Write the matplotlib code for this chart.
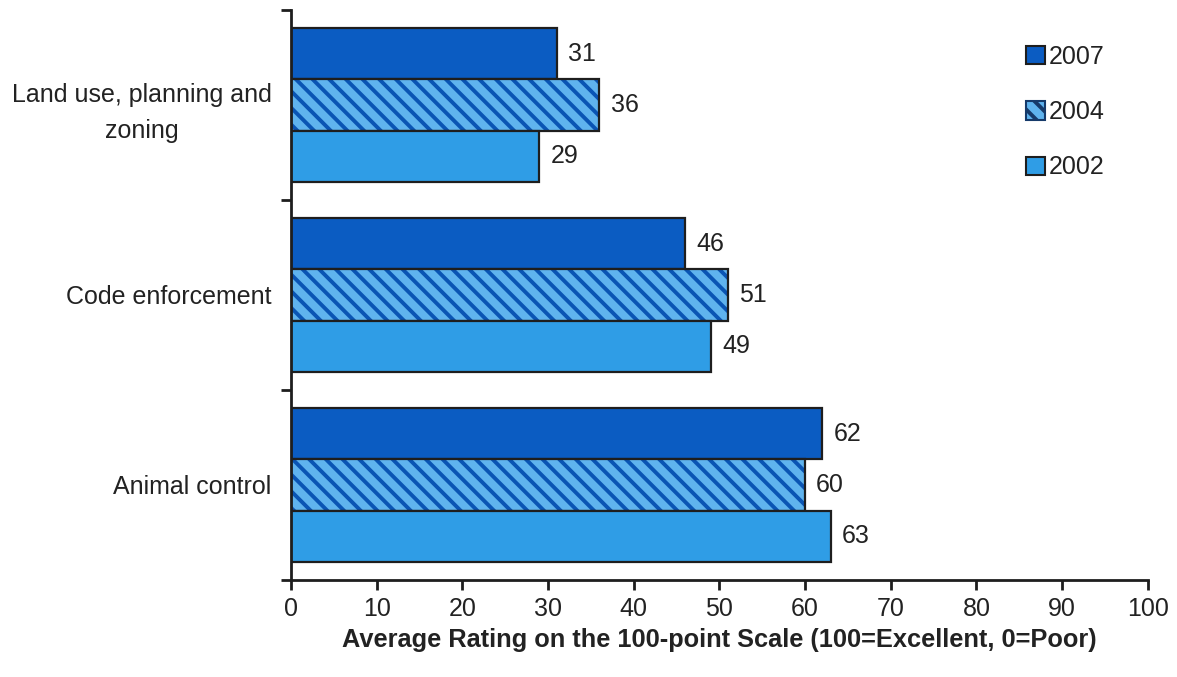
import numpy as np
import matplotlib
matplotlib.use("Agg")
import matplotlib.pyplot as plt
from matplotlib.patches import Patch

plt.rcParams['font.family'] = ['Liberation Sans', 'DejaVu Sans']
plt.rcParams['hatch.linewidth'] = 2.8

categories = ["Land use, planning and\nzoning", "Code enforcement", "Animal control"]
years = ["2007", "2004", "2002"]
vals_2007 = [31, 46, 62]
vals_2004 = [36, 51, 60]
vals_2002 = [29, 49, 63]

dark = "#0b5cc2"
light = "#2f9de6"
hatch_bg = "#5fb3ee"
hatch_fg = "#0a55b4"
edge = "#1e1e1e"
txt = "#222222"

fig = plt.figure(figsize=(11.77, 6.77), dpi=100)
ax = fig.add_axes([0.2472, 0.1433, 0.728, 0.842])

# groups from top to bottom
ypos = np.arange(len(categories))[::-1].astype(float)
h = 0.27

ax.barh(ypos + h, vals_2007, height=h, color=dark, edgecolor=edge, linewidth=1.6)
# hatched bars: stripes drawn first, black outline on top
ax.barh(ypos, vals_2004, height=h, color=hatch_bg, edgecolor=hatch_fg,
        hatch="\\\\", linewidth=0)
ax.barh(ypos, vals_2004, height=h, color="none", edgecolor=edge, linewidth=1.6)
ax.barh(ypos - h, vals_2002, height=h, color=light, edgecolor=edge, linewidth=1.6)

for off, vals in [(h, vals_2007), (0, vals_2004), (-h, vals_2002)]:
    for y, v in zip(ypos, vals):
        ax.annotate(str(v), (v, y + off), xytext=(8, 0), textcoords="offset points",
                    va="center", ha="left", fontsize=18, color=txt)

ax.set_xlim(0, 100)
ax.set_ylim(-0.5, len(categories) - 0.5)
ax.set_xticks(np.arange(0, 101, 10))
ax.set_yticks(np.arange(-0.5, len(categories), 1.0))
ax.set_yticklabels([])
ax.set_yticks(ypos, minor=True)
ax.set_yticklabels(categories, minor=True, fontsize=18, color=txt,
                   multialignment="center", linespacing=1.6)
ax.tick_params(axis="y", which="minor", length=0, pad=14)
ax.tick_params(axis="y", which="major", length=7, width=2, color=edge)
ax.tick_params(axis="x", length=7, width=2, color=edge, labelsize=18,
               labelcolor=txt, pad=5)

for s in ["top", "right"]:
    ax.spines[s].set_visible(False)
for s in ["left", "bottom"]:
    ax.spines[s].set_linewidth(2)
    ax.spines[s].set_color(edge)

ax.set_xlabel("Average Rating on the 100-point Scale (100=Excellent, 0=Poor)",
              fontsize=18.3, fontweight="bold", color=txt, labelpad=5)

handles = [
    Patch(facecolor=dark, edgecolor=edge, linewidth=1.5),
    Patch(facecolor=hatch_bg, edgecolor="#163a6a", hatch="\\\\", linewidth=1.5),
    Patch(facecolor=light, edgecolor=edge, linewidth=1.5),
]
leg = ax.legend(handles, years, loc="upper left", bbox_to_anchor=(0.832, 0.978),
                frameon=False, fontsize=18, handlelength=0.75, handleheight=0.75,
                handletextpad=0.15, labelspacing=1.25)
for t in leg.get_texts():
    t.set_color(txt)

fig.savefig("out.png", dpi=100)
